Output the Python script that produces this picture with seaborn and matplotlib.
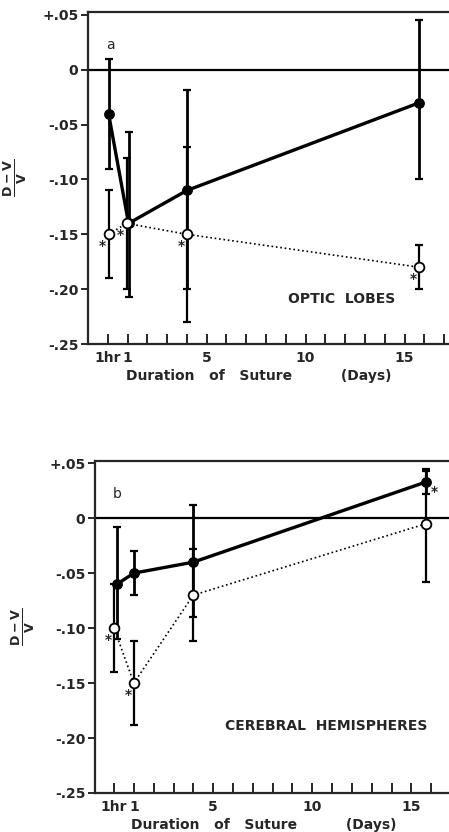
import matplotlib
matplotlib.use("Agg")
import matplotlib.pyplot as plt
import seaborn as sns
import numpy as np
import pandas as pd

# Panel a: optic lobes
a_days_filled = [0.04, 1.05, 4.0, 15.75]
a_filled = [-0.04, -0.14, -0.11, -0.03]
a_filled_hi = [0.01, -0.057, -0.018, 0.045]
a_filled_lo = [-0.09, -0.207, -0.20, -0.10]
a_days_open = [0.04, 0.95, 4.0, 15.75]
a_open = [-0.15, -0.14, -0.15, -0.18]
a_open_hi = [-0.11, -0.08, -0.07, -0.16]
a_open_lo = [-0.19, -0.20, -0.23, -0.20]
a_open_star = [True, True, True, True]
a_filled_star = [False, False, False, False]

# Panel b: cerebral hemispheres
b_days_filled = [0.15, 1.0, 4.0, 15.75]
b_filled = [-0.06, -0.05, -0.04, 0.033]
b_filled_hi = [-0.008, -0.03, 0.012, 0.043]
b_filled_lo = [-0.11, -0.07, -0.09, 0.022]
b_days_open = [0.0, 1.0, 4.0, 15.75]
b_open = [-0.10, -0.15, -0.07, -0.005]
b_open_hi = [-0.06, -0.112, -0.028, 0.045]
b_open_lo = [-0.14, -0.188, -0.112, -0.058]
b_open_star = [True, True, False, False]
b_filled_star = [False, False, False, True]

y_ticks = [0.05, 0, -0.05, -0.10, -0.15, -0.20, -0.25]
y_ticklabels = ["+.05", "0", "-.05", "-.10", "-.15", "-.20", "-.25"]
x_ticks = [0, 1, 5, 10, 15]
x_ticklabels = ["1hr", "1", "5", "10", "15"]

sns.set_style("ticks")
plt.rcParams['font.family'] = ['DejaVu Sans']
plt.rcParams['font.weight'] = 'bold'
plt.rcParams['mathtext.default'] = 'bf'

fig = plt.figure(figsize=(4.49, 8.32), dpi=100)
ax_a = fig.add_axes([88 / 449, 1 - 344 / 832, 364 / 449, 332 / 832])
ax_b = fig.add_axes([95 / 449, 1 - 793 / 832, 360 / 449, 332 / 832])


def draw_panel(ax, xf, yf, hif, lof, xo, yo, hio, loo, star_f, star_o,
               letter, name, name_xy, xlim, ytop):
    xf = np.array(xf); yf = np.array(yf)
    xo = np.array(xo); yo = np.array(yo)
    ax.axhline(0, color='black', lw=1.6, zorder=1)
    ax.errorbar(xf, yf, yerr=[yf - np.array(lof), np.array(hif) - yf], fmt='none',
                ecolor='black', elinewidth=2.0, capsize=3, capthick=1.6, zorder=2)
    ax.errorbar(xo, yo, yerr=[yo - np.array(loo), np.array(hio) - yo], fmt='none',
                ecolor='black', elinewidth=1.6, capsize=3, capthick=1.6, zorder=2)
    df_o = pd.DataFrame({'day': xo, 'val': yo})
    df_f = pd.DataFrame({'day': xf, 'val': yf})
    sns.lineplot(data=df_o, x='day', y='val', ax=ax, color='black', lw=1.2,
                 linestyle=':', marker='o', markersize=7, markerfacecolor='white',
                 markeredgecolor='black', markeredgewidth=1.3, zorder=4)
    sns.lineplot(data=df_f, x='day', y='val', ax=ax, color='black', lw=2.4,
                 marker='o', markersize=7, markerfacecolor='black',
                 markeredgecolor='black', zorder=3)
    for x, y, s in zip(xo, yo, star_o):
        if s:
            ax.annotate("*", xy=(x, y), xytext=(-6, -12), textcoords='offset pixels',
                        ha='center', va='center', fontsize=10, zorder=5)
    for x, y, s in zip(xf, yf, star_f):
        if s:
            ax.annotate("*", xy=(x, y), xytext=(8, -10), textcoords='offset pixels',
                        ha='center', va='center', fontsize=10, zorder=5)

    ax.set_xlim(*xlim)
    ax.set_ylim(-0.25, ytop)
    ax.set_yticks(y_ticks)
    ax.set_yticklabels(y_ticklabels, fontsize=10, fontweight='bold')
    ax.set_xticks(x_ticks)
    ax.set_xticklabels(x_ticklabels, fontsize=10, fontweight='bold')
    ax.set_xticks(range(0, 18), minor=True)
    ax.tick_params(axis='x', which='both', direction='in', length=7, width=1.4, pad=5)
    ax.tick_params(axis='y', direction='out', length=5, width=1.4, pad=2)
    ax.set_xlabel("Duration   of   Suture          (Days)", fontsize=10,
                  fontweight='bold')
    ax.xaxis.set_label_coords(0.47, -0.075)
    ax.set_ylabel("")
    for side in ['left', 'bottom', 'top']:
        ax.spines[side].set_linewidth(1.6)
    ax.spines['right'].set_visible(False)

    ax.text(0.05, 0.9, letter, transform=ax.transAxes, fontsize=10,
            fontweight='normal', ha='left', va='center')
    ax.text(name_xy[0], name_xy[1], name, fontsize=10, fontweight='bold',
            ha='center', va='center')
    ax.text(-0.2, 0.5, r"$\frac{D-V}{V}$", transform=ax.transAxes, rotation=90,
            fontsize=13, ha='center', va='center')


draw_panel(ax_a, a_days_filled, a_filled, a_filled_hi, a_filled_lo,
           a_days_open, a_open, a_open_hi, a_open_lo, a_filled_star, a_open_star,
           "a", "OPTIC  LOBES", (11.8, -0.209), (-1.0, 17.4), 0.0527)
draw_panel(ax_b, b_days_filled, b_filled, b_filled_hi, b_filled_lo,
           b_days_open, b_open, b_open_hi, b_open_lo, b_filled_star, b_open_star,
           "b", "CEREBRAL  HEMISPHERES", (10.7, -0.189), (-0.96, 17.2), 0.052)

fig.savefig("out.png", dpi=100)
